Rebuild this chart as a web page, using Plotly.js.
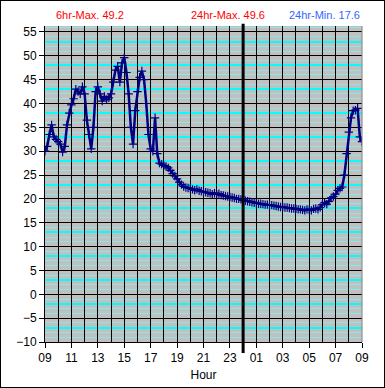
<!DOCTYPE html>
<html>
<head>
<meta charset="utf-8">
<script src="https://cdn.plot.ly/plotly-3.0.1.min.js"></script>
<style>
  html, body { margin: 0; padding: 0; background: #ffffff; }
  #wrap { position: relative; width: 385px; height: 388px; }
  #chart { width: 385px; height: 388px; }
  #frame { position: absolute; left: 0; top: 0; width: 385px; height: 388px; box-sizing: border-box; border: 1px solid #000; pointer-events: none; }
</style>
</head>
<body>
<div id="wrap"><div id="chart"></div><div id="frame"></div></div>
<script>
// Hours elapsed since 09:00 (10-minute readings)
const hoursSinceStart = [];
for (let i = 0; i <= 144; i++) hoursSinceStart.push(i / 6);

// Readings, 10-minute steps from 09:00 to 09:00 next day
const readings = [
  // 09:00
  30.0, 31.0, 33.5, 35.5, 33.0, 32.5,
  // 10:00
  32.0, 31.5, 29.8, 31.0, 35.5, 38.0,
  // 11:00
  39.7, 41.0, 43.0, 42.5, 42.0, 43.5,
  // 12:00
  42.0, 36.5, 33.5, 30.5, 35.0, 42.5,
  // 13:00
  43.5, 42.0, 40.5, 41.5, 40.8, 41.2,
  // 14:00
  42.0, 44.5, 47.0, 47.8, 44.5, 48.5,
  // 15:00
  49.6, 46.5, 42.0, 35.0, 31.5, 38.5,
  // 16:00
  42.5, 45.5, 46.8, 45.0, 40.0, 33.5,
  // 17:00
  30.5, 30.0, 37.0, 29.5, 27.5, 27.3,
  // 18:00
  27.0, 26.8, 26.5, 26.0, 25.3, 24.8,
  // 19:00
  24.2, 23.5, 23.0, 22.6, 22.4, 22.3,
  // 20:00
  22.2, 22.0, 21.8, 22.0, 21.7, 21.6,
  // 21:00
  21.5, 21.4, 21.3, 21.2, 21.0, 21.2,
  // 22:00
  21.0, 21.1, 20.8, 20.7, 20.6, 20.5,
  // 23:00
  20.4, 20.3, 20.2, 20.0, 20.0, 19.9,
  // 00:00
  19.7, 19.6, 19.5, 19.4, 19.3, 19.2,
  // 01:00
  19.1, 19.0, 19.0, 18.9, 18.8, 18.8,
  // 02:00
  18.7, 18.7, 18.6, 18.5, 18.4, 18.3,
  // 03:00
  18.3, 18.2, 18.2, 18.1, 18.0, 18.0,
  // 04:00
  17.9, 17.8, 17.8, 17.7, 17.6, 17.8,
  // 05:00
  17.7, 17.6, 17.9, 18.0, 17.8, 18.2,
  // 06:00
  18.8, 19.2, 18.9, 19.5, 20.2, 20.5,
  // 07:00
  21.0, 21.8, 22.2, 22.5, 25.0, 29.5,
  // 08:00
  34.0, 37.0, 38.5, 38.6, 39.0, 33.0,
  // 09:00
  32.0
];

// Axis tick labels
const xTickVals = [0, 2, 4, 6, 8, 10, 12, 14, 16, 18, 20, 22, 24];
const xTickLabels = ["09", "11", "13", "15", "17", "19", "21", "23", "01", "03", "05", "07", "09"];
const yTickVals = [-10, -5, 0, 5, 10, 15, 20, 25, 30, 35, 40, 45, 50, 55];
const midnightHour = 15;

// Header texts
const header6hMax = "6hr-Max. 49.2";
const header24hMax = "24hr-Max. 49.6";
const header24hMin = "24hr-Min. 17.6";
const xTitle = "Hour";

const font = "Liberation Sans, Arial, sans-serif";
const yRange = [-10, 56.25];
const xRange = [0, 24];

// empty trace to activate the base (cyan-grid) subplot
const baseTrace = { x: [], y: [], xaxis: "x", yaxis: "y", type: "scatter", mode: "lines", showlegend: false, hoverinfo: "skip" };

const trace = {
  x: hoursSinceStart,
  y: readings,
  xaxis: "x2",
  yaxis: "y2",
  type: "scatter",
  mode: "lines+markers",
  line: { color: "#000080", width: 2.5 },
  marker: { symbol: "cross-thin", size: 6, color: "#000080", line: { color: "#000080", width: 1.2 } },
  hoverinfo: "skip",
  showlegend: false
};

const layout = {
  width: 385,
  height: 388,
  margin: { l: 45, r: 23, t: 26, b: 46 },
  paper_bgcolor: "#ffffff",
  plot_bgcolor: "#c0c0c0",
  font: { family: font, size: 12, color: "#000" },
  showlegend: false,
  // base axes: labels on x, cyan gridlines on y
  xaxis: {
    range: xRange,
    tickvals: xTickVals,
    ticktext: xTickLabels,
    ticks: "outside",
    ticklen: 5,
    tickcolor: "#000",
    tickwidth: 1,
    showgrid: false,
    showline: true,
    linecolor: "#000",
    linewidth: 1,
    zeroline: false,
    tickfont: { family: font, size: 12, color: "#000" },
    title: { text: xTitle, font: { family: font, size: 12, color: "#000" }, standoff: 6 },
    fixedrange: true
  },
  yaxis: {
    range: yRange,
    tick0: 3,
    dtick: 5,
    showticklabels: false,
    ticks: "",
    showgrid: true,
    gridcolor: "#00ffff",
    gridwidth: 2,
    minor: { dtick: 1, tick0: 0, showgrid: true, gridcolor: "#8ee6e6", gridwidth: 1, griddash: "solid", ticks: "" },
    showline: false,
    zeroline: false,
    fixedrange: true
  },
  // overlay axes: black hourly / 5-unit grid, y labels
  xaxis2: {
    overlaying: "x",
    range: xRange,
    tick0: 0,
    dtick: 1,
    showticklabels: false,
    ticks: "",
    showgrid: true,
    gridcolor: "#000",
    gridwidth: 1,
    showline: false,
    zeroline: false,
    fixedrange: true
  },
  yaxis2: {
    overlaying: "y",
    side: "left",
    range: yRange,
    tickvals: yTickVals,
    ticks: "outside",
    ticklen: 5,
    tickcolor: "#000",
    tickwidth: 1,
    showgrid: true,
    gridcolor: "#000",
    gridwidth: 1,
    showline: true,
    linecolor: "#000",
    linewidth: 1,
    zeroline: false,
    tickfont: { family: font, size: 12, color: "#000" },
    fixedrange: true
  },
  shapes: [
    {
      type: "line", xref: "x", yref: "paper",
      x0: midnightHour, x1: midnightHour, y0: -0.035, y1: 1.007,
      line: { color: "#000", width: 3 }, layer: "above"
    },
    {
      type: "line", xref: "paper", yref: "paper",
      x0: 1, x1: 1, y0: 0, y1: 1,
      line: { color: "#808080", width: 1 }, layer: "above"
    }
  ],
  annotations: [
    { text: header6hMax, xref: "paper", yref: "paper", x: 0.028, y: 1.035, xanchor: "left", yanchor: "middle", showarrow: false, font: { family: font, size: 11, color: "#ff0000" } },
    { text: header24hMax, xref: "paper", yref: "paper", x: 0.577, y: 1.035, xanchor: "center", yanchor: "middle", showarrow: false, font: { family: font, size: 11, color: "#ff0000" } },
    { text: header24hMin, xref: "paper", yref: "paper", x: 1.0, y: 1.035, xanchor: "right", yanchor: "middle", showarrow: false, font: { family: font, size: 11, color: "#3366ff" } }
  ]
};

Plotly.newPlot("chart", [baseTrace, trace], layout, { staticPlot: true, displayModeBar: false });
</script>
</body>
</html>
